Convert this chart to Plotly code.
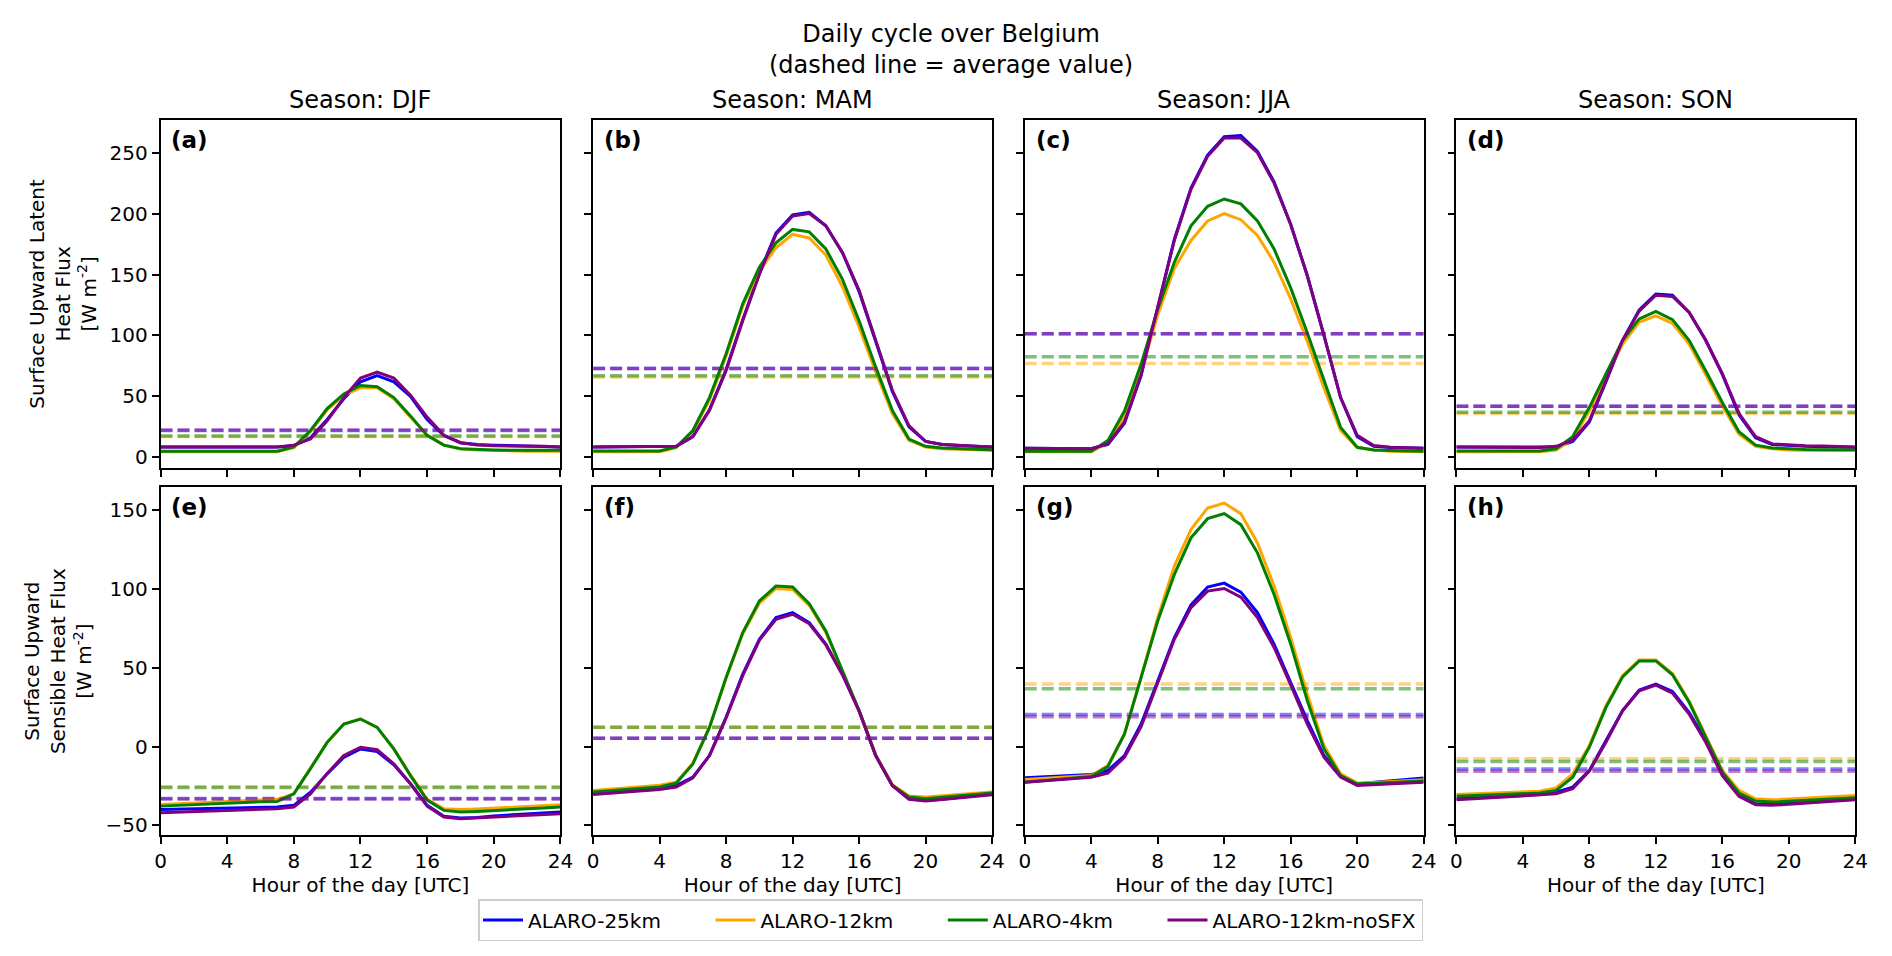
import plotly.graph_objects as go
from plotly.subplots import make_subplots

# Hours of the day
hours = list(range(25))

models = ["ALARO-25km", "ALARO-12km", "ALARO-4km", "ALARO-12km-noSFX"]
colors = ["blue", "orange", "green", "purple"]
seasons = ["DJF", "MAM", "JJA", "SON"]

# --- Surface upward latent heat flux [W m-2] ---
latent_djf_25km = [8.5, 8.5, 8.5, 8.5, 8.5, 8.5, 8.5, 8.5, 9.5, 16, 31, 48, 62, 67, 62, 50, 31, 18, 12, 10.5, 10, 9.5, 9, 9, 8.5]
latent_djf_12km = [4.5, 4.5, 4.5, 4.5, 4.5, 4.5, 4.5, 4.5, 8, 21, 39, 51, 57, 57, 48, 33, 18, 10, 7, 6, 5.5, 5.5, 5, 5, 5]
latent_djf_4km = [5, 5, 5, 5, 5, 5, 5, 5, 8.5, 22, 40, 52, 59, 58, 49, 34, 18, 10, 7, 6.3, 6, 5.8, 5.7, 5.7, 5.7]
latent_djf_nosfx = [8.5, 8.5, 8.5, 8.5, 8.5, 8.5, 8.5, 8.5, 10, 15, 30, 49, 65, 70, 65, 51, 33, 18, 12, 10, 9.5, 9.5, 9, 9, 8.5]

latent_mam_25km = [8.5, 8.5, 8.5, 8.5, 8.5, 9, 17, 39, 72, 113, 151, 184, 199, 201, 190, 168, 136, 95, 54, 25, 13, 10.5, 9.5, 9, 8.5]
latent_mam_12km = [4.5, 4.5, 4.5, 4.5, 4.5, 8, 21, 47, 83, 124, 153, 172, 183, 180, 166, 140, 107, 70, 36, 14, 8.5, 7, 6.5, 6, 5.7]
latent_mam_4km = [5.2, 5.2, 5.2, 5.2, 5.2, 8.5, 22, 49, 85, 126, 156, 176, 187, 185, 171, 146, 112, 74, 38.5, 15, 9, 7.7, 7, 6.6, 6.3]
latent_mam_nosfx = [8.5, 8.5, 8.5, 8.5, 8.5, 9, 17, 38.5, 71, 112, 150, 183, 198, 200, 190, 168, 137, 96, 55, 26, 13, 10.5, 9.5, 9, 8.5]

latent_jja_25km = [7.4, 7.4, 7.4, 7.2, 7, 10.5, 28, 67, 123, 179, 221, 248, 263, 264, 251, 226, 191, 149, 100, 49, 17, 9, 8, 7.6, 7.4]
latent_jja_12km = [4.5, 4.5, 4.5, 4.3, 4.5, 12, 33, 70, 117, 155, 178, 194, 200, 195, 182, 160, 130, 95, 57, 22, 8, 6, 5, 4.8, 4.5]
latent_jja_4km = [5, 5, 5, 4.8, 5, 13.7, 38, 76.5, 121.6, 160, 190, 206, 212, 208, 194, 171, 139, 102, 63, 24.6, 8.2, 6, 5.5, 5.2, 5]
latent_jja_nosfx = [7.4, 7.4, 7.4, 7.2, 7, 11, 29, 68, 123, 178, 220, 247, 262, 262, 250, 225, 191, 149, 100, 49, 18, 9.6, 8.2, 7.8, 7.4]

latent_son_25km = [8.5, 8.5, 8.5, 8.3, 8.2, 8, 8.5, 13, 29, 62, 96, 121, 134, 133, 119, 96, 68, 35, 16, 10.5, 9.5, 9, 8.7, 8.5, 8.2]
latent_son_12km = [4.6, 4.6, 4.6, 4.6, 4.6, 4.6, 6, 15, 38, 66, 93, 111, 116, 110, 93, 68, 42, 19, 9, 7, 6, 5.8, 5.5, 5.5, 5.5]
latent_son_4km = [5.2, 5.2, 5.2, 5.2, 5.2, 5.2, 7, 17, 41, 68.6, 96, 113.6, 119.7, 113, 96, 71, 45, 21, 10, 7.6, 6.8, 6.5, 6.3, 6.3, 6.3]
latent_son_nosfx = [8.5, 8.5, 8.5, 8.3, 8.2, 8, 9, 14, 30, 63, 96, 120, 133, 132, 119, 96, 68.6, 36, 17, 11, 10, 9.5, 9.2, 9, 8.5]

# averages (dashed lines), order: 25km, 12km, 4km, noSFX
latent_mean_djf = [22, 17, 17.5, 22.5]
latent_mean_mam = [73, 66, 67, 72.7]
latent_mean_jja = [101.5, 77, 82.5, 101.4]
latent_mean_son = [42, 36, 37, 42]

# --- Surface upward sensible heat flux [W m-2] ---
sensible_djf_25km = [-40, -39.8, -39.6, -39.4, -39.2, -39, -38.7, -38.4, -37.3, -29, -17.3, -6.8, -1.5, -3.2, -11.6, -23.6, -37.3, -44.3, -45.4, -45, -44, -43.4, -42.8, -42.2, -41.6]
sensible_djf_12km = [-36.7, -36.2, -35.7, -35.2, -34.7, -34.2, -33.8, -33.5, -30, -14, 2.7, 14.3, 17.5, 12.2, -1.5, -18, -33.5, -39.5, -40, -39.6, -39, -38.5, -38, -37.5, -37]
sensible_djf_4km = [-37.8, -37.3, -36.8, -36.3, -35.8, -35.3, -35, -34.8, -30, -14, 2.7, 14.3, 17.5, 12.2, -1.5, -18.4, -34, -40.5, -41.6, -41.2, -40.5, -40, -39.5, -39, -38.4]
sensible_djf_nosfx = [-42, -41.6, -41.2, -40.8, -40.4, -40, -39.8, -39.5, -38.4, -30, -17, -5.7, -0.4, -2, -11, -23.6, -37.8, -44.7, -45.8, -45.3, -44.7, -44.2, -43.6, -43.1, -42.6]

sensible_mam_25km = [-30, -29.2, -28.4, -27.6, -26.8, -24.7, -19.4, -5.7, 18.6, 46, 68.1, 81.9, 85, 78.7, 65, 46, 22.8, -5.7, -24.7, -33.1, -34.2, -33.4, -32.2, -31, -30]
sensible_mam_12km = [-27.8, -27, -26.2, -25.4, -24.6, -22.6, -10.5, 12.5, 43.5, 71.5, 91, 100.4, 99.8, 89.7, 72.5, 47.5, 22.5, -5.5, -24, -31.4, -32, -31.2, -30.4, -29.6, -28.9]
sensible_mam_4km = [-28.9, -28.1, -27.3, -26.5, -25.7, -23.2, -11, 12.2, 43.9, 72.4, 92.4, 101.9, 101.3, 90.7, 73.4, 48.1, 22.8, -5.7, -24.7, -32, -33.1, -32.2, -31.3, -30.4, -29.5]
sensible_mam_nosfx = [-30.4, -29.6, -28.8, -28, -27.2, -25.7, -19.8, -5.7, 18.2, 45, 67.5, 80.8, 84, 78, 64.6, 45.5, 22.5, -5.7, -24.7, -33.5, -34.6, -33.6, -32.6, -31.6, -30.6]

sensible_jja_25km = [-19.8, -19.3, -18.8, -18.2, -17.7, -15.2, -5.7, 14.3, 41.8, 69.2, 89.9, 101.3, 103.8, 98.1, 85, 65, 40.7, 16.5, -5.7, -18.4, -23.6, -22.7, -21.7, -20.8, -20]
sensible_jja_12km = [-20.9, -20.3, -19.7, -19, -18.4, -12, 8, 43.9, 81.9, 114.6, 137.8, 151.5, 154.6, 147.9, 129.3, 101.9, 69.2, 33.3, 0.6, -17.3, -23.2, -22.8, -22.2, -21.6, -21.1]
sensible_jja_4km = [-22.6, -21.7, -20.8, -19.9, -19, -12.7, 8, 43.9, 79.7, 109.3, 132.5, 144.7, 147.9, 140.9, 123, 96.6, 65, 29.1, -1.5, -18.4, -23.6, -23.2, -22.8, -22.3, -21.9]
sensible_jja_nosfx = [-22.6, -21.8, -21, -20.2, -19.4, -16.9, -6.8, 12.7, 40.7, 68.1, 88.2, 98.7, 100.4, 94.9, 81.9, 62.9, 39.2, 14.3, -6.8, -19.4, -24.7, -24.2, -23.6, -23.1, -22.6]

sensible_son_25km = [-33.1, -32.6, -32, -31.5, -30.9, -30.4, -28.9, -25.7, -15.2, 3.8, 22.8, 35.9, 39.7, 35, 21.7, 3.8, -17.3, -31, -36.3, -36.7, -36, -35.3, -34.6, -33.8, -33.1]
sensible_son_12km = [-30.4, -30, -29.6, -29.1, -28.7, -28.3, -26.2, -17.3, 0.6, 26, 45, 55, 55, 46.4, 29, 7, -15.2, -27.8, -33.1, -33.8, -33.2, -32.7, -32.1, -31.6, -31]
sensible_son_4km = [-31.6, -31.2, -30.8, -30.4, -29.9, -29.5, -27.8, -19.4, -0.4, 24.9, 44.3, 54.4, 54.4, 45.6, 28.1, 5.9, -16.2, -29.5, -34.6, -35.2, -34.7, -34.2, -33.6, -33, -32.5]
sensible_son_nosfx = [-33.8, -33.2, -32.7, -32.1, -31.6, -31, -30, -26.8, -15.6, 2.7, 22.8, 35.4, 39, 34, 20.7, 2.7, -18.4, -31.6, -36.9, -37.3, -36.6, -35.9, -35.2, -34.5, -33.8]

sensible_mean_djf = [-33, -25.5, -26, -33.3]
sensible_mean_mam = [5.3, 12.2, 12.2, 5.3]
sensible_mean_jja = [20.3, 39.7, 36.7, 19]
sensible_mean_son = [-14.3, -7.8, -9.5, -15.6]

latent = [
    [latent_djf_25km, latent_djf_12km, latent_djf_4km, latent_djf_nosfx],
    [latent_mam_25km, latent_mam_12km, latent_mam_4km, latent_mam_nosfx],
    [latent_jja_25km, latent_jja_12km, latent_jja_4km, latent_jja_nosfx],
    [latent_son_25km, latent_son_12km, latent_son_4km, latent_son_nosfx],
]
latent_means = [latent_mean_djf, latent_mean_mam, latent_mean_jja, latent_mean_son]
sensible = [
    [sensible_djf_25km, sensible_djf_12km, sensible_djf_4km, sensible_djf_nosfx],
    [sensible_mam_25km, sensible_mam_12km, sensible_mam_4km, sensible_mam_nosfx],
    [sensible_jja_25km, sensible_jja_12km, sensible_jja_4km, sensible_jja_nosfx],
    [sensible_son_25km, sensible_son_12km, sensible_son_4km, sensible_son_nosfx],
]
sensible_means = [sensible_mean_djf, sensible_mean_mam, sensible_mean_jja, sensible_mean_son]

rows = [(latent, latent_means), (sensible, sensible_means)]
letters = ["a", "b", "c", "d", "e", "f", "g", "h"]

FONT = "DejaVu Sans"
W, H = 1892, 956
TICKFONT = dict(family=FONT, size=20, color="black")
NBSP = "\u00a0"

fig = make_subplots(rows=2, cols=4, shared_yaxes=True)

for r, (series, means) in enumerate(rows, start=1):
    for c in range(4):
        for m in range(4):
            # trailing spaces widen the gap between legend entries
            label = models[m] + (NBSP * 7 if m < 3 else "")
            fig.add_trace(go.Scatter(
                x=hours, y=series[c][m], mode="lines",
                line=dict(color=colors[m], width=3),
                name=label, legendgroup=models[m],
                showlegend=(r == 1 and c == 0),
            ), row=r, col=c + 1)
            fig.add_trace(go.Scatter(
                x=[0, 24], y=[means[c][m]] * 2, mode="lines",
                line=dict(color=colors[m], width=3.5, dash="12px,5px"),
                opacity=0.5, showlegend=False, legendgroup=models[m],
                hoverinfo="skip",
            ), row=r, col=c + 1)

# panel positions (pixels)
col_px = [(148, 552), (585, 988), (1021, 1424), (1457, 1860)]
row_px = [(112, 461), (480, 829)]

axis_style = dict(
    showline=True, mirror=True, linecolor="black", linewidth=1.6,
    ticks="outside", ticklen=7, tickwidth=1.6, tickcolor="black",
    showgrid=False, zeroline=False,
)

for r in range(2):
    for c in range(4):
        x0, x1 = col_px[c]
        y0, y1 = row_px[r]
        fig.update_xaxes(
            domain=[x0 / W, x1 / W], range=[0, 24], tickvals=[0, 4, 8, 12, 16, 20, 24],
            showticklabels=(r == 1), row=r + 1, col=c + 1, **axis_style,
        )
        fig.update_yaxes(
            domain=[1 - y1 / H, 1 - y0 / H], row=r + 1, col=c + 1,
            showticklabels=(c == 0), **axis_style,
        )
        if r == 1:
            fig.update_xaxes(
                title=dict(text="Hour of the day [UTC]", font=dict(family=FONT, size=20, color="black"), standoff=6),
                row=r + 1, col=c + 1,
            )
        k = r * 4 + c
        fig.add_annotation(
            text="<b>(%s)</b>" % letters[k], x=0.022, y=0.985,
            xref="x%s domain" % ("" if k == 0 else k + 1),
            yref="y%s domain" % ("" if k == 0 else k + 1),
            xanchor="left", yanchor="top", showarrow=False,
            font=dict(family=FONT, size=23, color="black"),
        )

fig.update_yaxes(range=[-8.8, 277], tickvals=[0, 50, 100, 150, 200, 250], row=1)
fig.update_yaxes(range=[-56.3, 164.8], tickvals=[-50, 0, 50, 100, 150], row=2)
fig.update_xaxes(tickfont=TICKFONT)
fig.update_yaxes(tickfont=TICKFONT)
fig.update_yaxes(
    title=dict(text="Surface Upward Latent<br>Heat Flux<br>[W m<sup>-2</sup>]",
               font=dict(family=FONT, size=20, color="black"), standoff=8),
    row=1, col=1,
)
fig.update_yaxes(
    title=dict(text="Surface Upward<br>Sensible Heat Flux<br>[W m<sup>-2</sup>]",
               font=dict(family=FONT, size=20, color="black"), standoff=8),
    row=2, col=1,
)

# column titles
for c in range(4):
    x0, x1 = col_px[c]
    fig.add_annotation(
        text="Season: %s" % seasons[c], x=(x0 + x1) / 2 / W, y=1 - 92 / H,
        xref="paper", yref="paper", xanchor="center", yanchor="middle",
        showarrow=False, font=dict(family=FONT, size=24, color="black"),
    )

fig.add_annotation(
    text="Daily cycle over Belgium<br>(dashed line = average value)",
    x=0.5, y=1 - 42 / H, xref="paper", yref="paper",
    xanchor="center", yanchor="middle", showarrow=False,
    font=dict(family=FONT, size=24, color="black"),
)

fig.update_layout(
    width=W, height=H,
    margin=dict(l=0, r=0, t=0, b=0),
    paper_bgcolor="white", plot_bgcolor="white",
    font=dict(family=FONT, size=20, color="black"),
    legend=dict(
        orientation="h", x=0.5, y=1 - 914 / H, xanchor="center", yanchor="middle",
        bordercolor="#cccccc", borderwidth=1.5, bgcolor="white",
        font=dict(family=FONT, size=20, color="black"),
        itemwidth=40,
    ),
)

fig.write_html("out.html")
